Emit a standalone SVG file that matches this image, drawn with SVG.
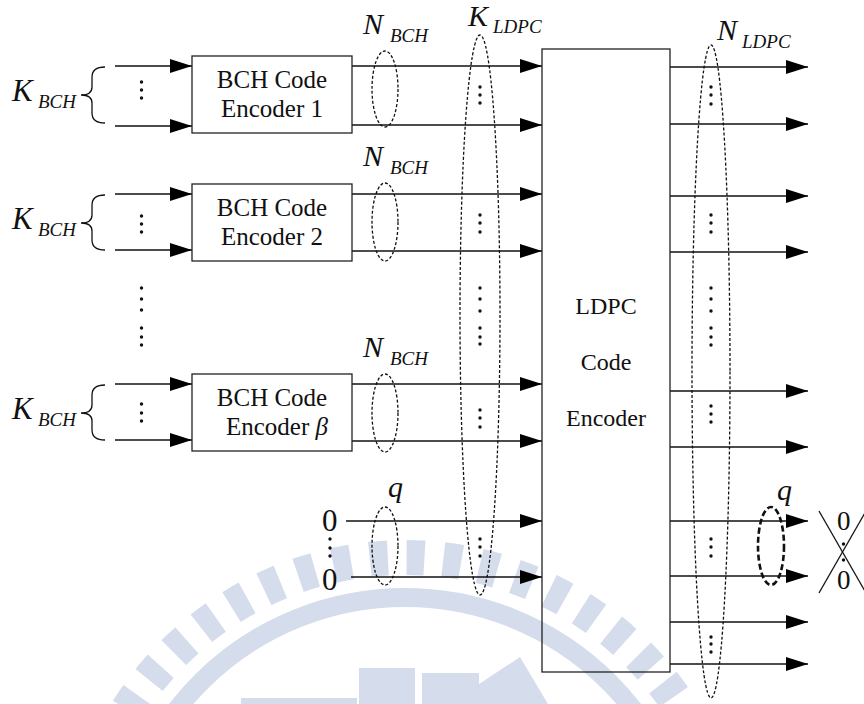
<svg xmlns="http://www.w3.org/2000/svg" width="864" height="704" viewBox="0 0 864 704">
<defs>
<marker id="ah" viewBox="0 0 22 14" refX="22" refY="7" markerWidth="22" markerHeight="14" markerUnits="userSpaceOnUse" orient="auto"><path d="M0,0 L22,7 L0,14 z" fill="#000"/></marker>
</defs>
<style>
.box{fill:none;stroke:#222;stroke-width:1.3}
.ln{stroke:#111;stroke-width:1.3;fill:none}
.ar{marker-end:url(#ah)}
.el{fill:none;stroke:#111;stroke-width:1.3;stroke-dasharray:3 2}
.elb{fill:none;stroke:#111;stroke-width:2.6;stroke-dasharray:6 3}
.t{font-family:"Liberation Serif","Times New Roman",serif;fill:#111}
.i{font-style:italic}
.c{text-anchor:middle}
.d{fill:#111}
.wm{fill:#d5ddec}
.wms{fill:none;stroke:#d5ddec}
</style>
<g id="watermark">
<circle class="wms" cx="405" cy="886" r="328.5" stroke-width="35" stroke-dasharray="18 18.857" stroke-dashoffset="35.86"/>
<circle class="wms" cx="405" cy="886" r="288.5" stroke-width="19"/>
<rect class="wm" x="241" y="698" width="116" height="6"/>
<rect class="wm" x="359" y="668" width="56" height="36"/>
<rect class="wm" x="422" y="673" width="57" height="31"/>
<path class="wm" d="M470,690 L520,657 L548,704 L470,704 z"/>
</g>
<g id="connectors">
<line class="ln ar" x1="115" y1="66" x2="192" y2="66"/>
<line class="ln ar" x1="115" y1="126" x2="192" y2="126"/>
<line class="ln ar" x1="115" y1="194" x2="192" y2="194"/>
<line class="ln ar" x1="115" y1="250" x2="192" y2="250"/>
<line class="ln ar" x1="115" y1="384" x2="192" y2="384"/>
<line class="ln ar" x1="115" y1="440" x2="192" y2="440"/>
<line class="ln ar" x1="352" y1="66" x2="542" y2="66"/>
<line class="ln ar" x1="352" y1="125" x2="542" y2="125"/>
<line class="ln ar" x1="352" y1="194" x2="542" y2="194"/>
<line class="ln ar" x1="352" y1="251" x2="542" y2="251"/>
<line class="ln ar" x1="352" y1="384" x2="542" y2="384"/>
<line class="ln ar" x1="352" y1="441" x2="542" y2="441"/>
<line class="ln ar" x1="346" y1="521" x2="542" y2="521"/>
<line class="ln ar" x1="351" y1="577" x2="542" y2="577"/>
<line class="ln ar" x1="670" y1="67" x2="808" y2="67"/>
<line class="ln ar" x1="670" y1="124" x2="808" y2="124"/>
<line class="ln ar" x1="670" y1="196" x2="808" y2="196"/>
<line class="ln ar" x1="670" y1="252" x2="808" y2="252"/>
<line class="ln ar" x1="670" y1="391" x2="808" y2="391"/>
<line class="ln ar" x1="670" y1="447" x2="808" y2="447"/>
<line class="ln ar" x1="670" y1="521" x2="808" y2="521"/>
<line class="ln ar" x1="670" y1="576" x2="808" y2="576"/>
<line class="ln ar" x1="670" y1="622" x2="808" y2="622"/>
<line class="ln ar" x1="670" y1="664" x2="808" y2="664"/>
</g>
<g id="bch1">
<rect class="box" x="192" y="56" width="160" height="77"/>
<text class="t c" x="272" y="88" font-size="25">BCH Code</text>
<text class="t c" x="272" y="117" font-size="25">Encoder 1</text>
</g>
<g id="bch2">
<rect class="box" x="192" y="184" width="160" height="77"/>
<text class="t c" x="272" y="216" font-size="25">BCH Code</text>
<text class="t c" x="272" y="245" font-size="25">Encoder 2</text>
</g>
<g id="bchb">
<rect class="box" x="192" y="374" width="160" height="77"/>
<text class="t c" x="272" y="406" font-size="25">BCH Code</text>
<text class="t c" x="277" y="435" font-size="25">Encoder  <tspan class="i">β</tspan></text>
</g>
<g id="ldpc">
<rect class="box" x="542" y="49" width="128" height="623"/>
<text class="t c" x="606" y="314" font-size="24">LDPC</text>
<text class="t c" x="606" y="370" font-size="24">Code</text>
<text class="t c" x="606" y="426" font-size="24">Encoder</text>
</g>
<g id="kbch-labels">
<path class="ln" d="M105,67 Q92,67 92,77 L92,87 Q92,95 81,95 Q92,95 92,103 L92,113 Q92,123 105,123"/>
<text class="t i" x="12" y="101" font-size="31">K</text><text class="t i" x="38" y="108" font-size="19">BCH</text>
<path class="ln" d="M105,195 Q92,195 92,205 L92,215 Q92,223 81,223 Q92,223 92,231 L92,240 Q92,250 105,250"/>
<text class="t i" x="12" y="229" font-size="31">K</text><text class="t i" x="38" y="236" font-size="19">BCH</text>
<path class="ln" d="M105,385 Q92,385 92,395 L92,405 Q92,413 81,413 Q92,413 92,421 L92,430 Q92,440 105,440"/>
<text class="t i" x="12" y="419" font-size="31">K</text><text class="t i" x="38" y="426" font-size="19">BCH</text>
</g>
<g id="left-dots">
<circle class="d" cx="141.5" cy="82" r="1.7"/><circle class="d" cx="141.5" cy="90" r="1.7"/><circle class="d" cx="141.5" cy="98" r="1.7"/>
<circle class="d" cx="141.5" cy="216" r="1.7"/><circle class="d" cx="141.5" cy="224" r="1.7"/><circle class="d" cx="141.5" cy="232" r="1.7"/>
<circle class="d" cx="141.5" cy="288" r="1.7"/><circle class="d" cx="141.5" cy="299" r="1.7"/><circle class="d" cx="141.5" cy="310" r="1.7"/>
<circle class="d" cx="141.5" cy="328" r="1.7"/><circle class="d" cx="141.5" cy="337" r="1.7"/><circle class="d" cx="141.5" cy="345" r="1.7"/>
<circle class="d" cx="141.5" cy="404" r="1.7"/><circle class="d" cx="141.5" cy="413" r="1.7"/><circle class="d" cx="141.5" cy="421" r="1.7"/>
</g>
<g id="nbch-groups">
<ellipse class="el" cx="385" cy="89" rx="13" ry="38"/>
<text class="t i" x="363" y="34" font-size="30">N</text><text class="t i" x="390" y="42" font-size="19">BCH</text>
<ellipse class="el" cx="385" cy="222" rx="13" ry="39"/>
<text class="t i" x="363" y="166" font-size="30">N</text><text class="t i" x="390" y="174" font-size="19">BCH</text>
<ellipse class="el" cx="385" cy="413" rx="13" ry="39"/>
<text class="t i" x="363" y="357" font-size="30">N</text><text class="t i" x="390" y="365" font-size="19">BCH</text>
</g>
<g id="zero-inputs">
<text class="t" x="322" y="531" font-size="31">0</text>
<text class="t" x="322" y="590" font-size="31">0</text>
<circle class="d" cx="330" cy="539" r="1.7"/><circle class="d" cx="330" cy="548" r="1.7"/><circle class="d" cx="330" cy="556" r="1.7"/>
<ellipse class="el" cx="385" cy="546" rx="13" ry="39"/>
<text class="t i" x="388" y="497" font-size="30">q</text>
</g>
<g id="kldpc-group">
<ellipse class="el" cx="480" cy="315" rx="20" ry="280"/>
<text class="t i" x="468" y="26" font-size="30">K</text><text class="t i" x="493" y="33" font-size="19">LDPC</text>
<circle class="d" cx="480" cy="87" r="1.7"/><circle class="d" cx="480" cy="95" r="1.7"/><circle class="d" cx="480" cy="103" r="1.7"/>
<circle class="d" cx="480" cy="215" r="1.7"/><circle class="d" cx="480" cy="223" r="1.7"/><circle class="d" cx="480" cy="232" r="1.7"/>
<circle class="d" cx="480" cy="288" r="1.7"/><circle class="d" cx="480" cy="299" r="1.7"/><circle class="d" cx="480" cy="311" r="1.7"/>
<circle class="d" cx="480" cy="328" r="1.7"/><circle class="d" cx="480" cy="337" r="1.7"/><circle class="d" cx="480" cy="344" r="1.7"/>
<circle class="d" cx="480" cy="410" r="1.7"/><circle class="d" cx="480" cy="418" r="1.7"/><circle class="d" cx="480" cy="427" r="1.7"/>
<circle class="d" cx="480" cy="539" r="1.7"/><circle class="d" cx="480" cy="547" r="1.7"/><circle class="d" cx="480" cy="556" r="1.7"/>
</g>
<g id="nldpc-group">
<ellipse class="el" cx="711" cy="371.5" rx="19" ry="326.5"/>
<text class="t i" x="717" y="40" font-size="30">N</text><text class="t i" x="742" y="48" font-size="19">LDPC</text>
<circle class="d" cx="711" cy="87" r="1.7"/><circle class="d" cx="711" cy="95" r="1.7"/><circle class="d" cx="711" cy="104" r="1.7"/>
<circle class="d" cx="711" cy="215" r="1.7"/><circle class="d" cx="711" cy="223" r="1.7"/><circle class="d" cx="711" cy="232" r="1.7"/>
<circle class="d" cx="711" cy="288" r="1.7"/><circle class="d" cx="711" cy="299" r="1.7"/><circle class="d" cx="711" cy="311" r="1.7"/>
<circle class="d" cx="711" cy="328" r="1.7"/><circle class="d" cx="711" cy="337" r="1.7"/><circle class="d" cx="711" cy="345" r="1.7"/>
<circle class="d" cx="711" cy="406" r="1.7"/><circle class="d" cx="711" cy="414" r="1.7"/><circle class="d" cx="711" cy="422" r="1.7"/>
<circle class="d" cx="711" cy="539" r="1.7"/><circle class="d" cx="711" cy="547" r="1.7"/><circle class="d" cx="711" cy="556" r="1.7"/>
<circle class="d" cx="711" cy="637" r="1.7"/><circle class="d" cx="711" cy="644" r="1.7"/><circle class="d" cx="711" cy="652" r="1.7"/>
</g>
<g id="punctured-zeros">
<ellipse class="elb" cx="771" cy="546" rx="13" ry="39"/>
<text class="t i" x="777" y="500" font-size="30">q</text>
<text class="t" x="837" y="530" font-size="27">0</text>
<text class="t" x="837" y="589" font-size="27">0</text>
<circle class="d" cx="843.5" cy="544" r="1.7"/><circle class="d" cx="843.5" cy="560" r="1.7"/>
<line class="ln" x1="819" y1="511" x2="866" y2="593"/>
<line class="ln" x1="819" y1="593" x2="866" y2="511"/>
</g>
</svg>
